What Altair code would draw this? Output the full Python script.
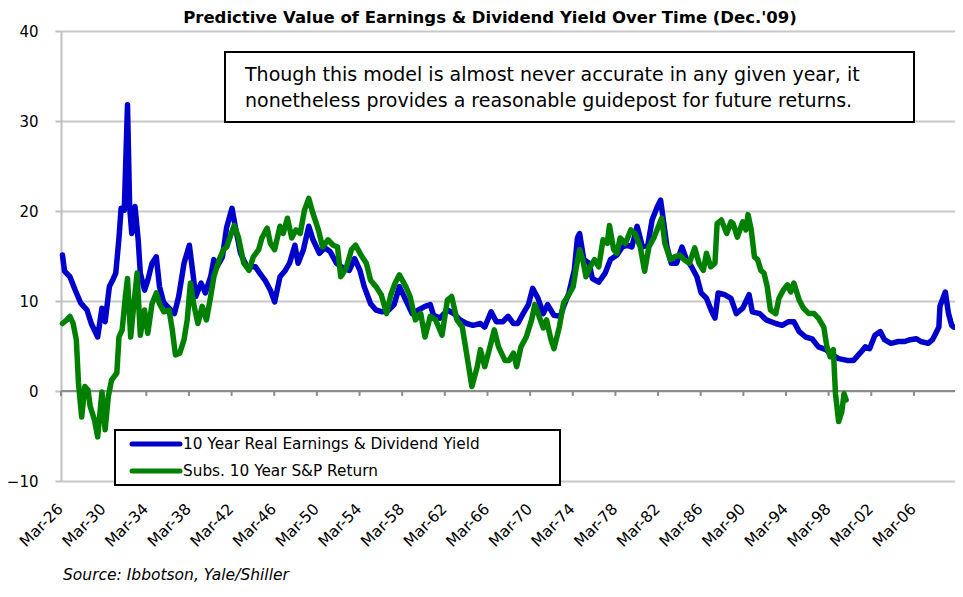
import altair as alt
import pandas as pd

FONT = "DejaVu Sans"
BLUE = "#0000CC"
GREEN = "#008000"

title_text = "Predictive Value of Earnings & Dividend Yield Over Time (Dec.'09)"
note_lines = [
    "Though this model is almost never accurate in any given year, it",
    "nonetheless provides a reasonable guidepost for future returns.",
]
series_names = ["10 Year Real Earnings & Dividend Yield", "Subs. 10 Year S&P Return"]
source_text = "Source: Ibbotson, Yale/Shiller"
tick_years = list(range(1926, 2007, 4))

# 10 Year Real Earnings & Dividend Yield (decimal year, %)
blue_years = [
    1926.3, 1926.5, 1927.0, 1927.5, 1928.0, 1928.6, 1929.0, 1929.6, 1930.0, 1930.3,
    1930.7, 1931.0, 1931.3, 1931.6, 1931.8, 1932.1, 1932.4, 1932.6, 1932.8, 1933.1,
    1933.4, 1933.6, 1934.0, 1934.3, 1934.7, 1935.1, 1935.4, 1935.8, 1936.3, 1936.8,
    1937.2, 1937.7, 1938.2, 1938.5, 1938.8, 1939.3, 1939.7, 1940.2, 1940.5, 1940.8,
    1941.3, 1941.7, 1942.2, 1942.5, 1943.0, 1943.6, 1944.4, 1944.8, 1945.3, 1945.8,
    1946.2, 1946.7, 1947.2, 1947.6, 1948.1, 1948.4, 1948.9, 1949.4, 1949.8, 1950.4,
    1950.9, 1951.4, 1952.0, 1952.6, 1953.2, 1953.7, 1954.2, 1954.6, 1955.2, 1955.7,
    1956.3, 1956.9, 1957.4, 1957.9, 1958.5, 1959.1, 1959.7, 1960.3, 1960.8, 1961.1,
    1961.7, 1962.4, 1963.0, 1963.6, 1964.2, 1964.8, 1965.5, 1965.9, 1966.5, 1967.0,
    1967.6, 1968.1, 1968.6, 1969.0, 1969.5, 1970.0, 1970.4, 1970.9, 1971.4, 1971.8,
    1972.4, 1973.0, 1973.3, 1973.8, 1974.3, 1974.6, 1974.8, 1975.2, 1975.7, 1976.0,
    1976.6, 1977.2, 1977.7, 1978.3, 1978.8, 1979.3, 1979.7, 1980.2, 1980.7, 1981.2,
    1981.6, 1982.1, 1982.4, 1982.7, 1983.0, 1983.4, 1983.9, 1984.4, 1984.8, 1985.3,
    1985.8, 1986.2, 1986.7, 1987.2, 1987.5, 1987.8, 1988.4, 1989.0, 1989.5, 1990.1,
    1990.7, 1991.0, 1991.7, 1992.3, 1993.2, 1993.8, 1994.4, 1994.9, 1995.4, 1996.0,
    1996.6, 1997.2, 1997.9, 1998.5, 1999.1, 1999.9, 2000.5, 2001.1, 2001.6, 2002.0,
    2002.5, 2003.0, 2003.4, 2004.0, 2004.7, 2005.3, 2005.8, 2006.4, 2006.8, 2007.5,
    2007.9, 2008.2, 2008.5, 2008.6, 2009.1, 2009.4, 2009.7, 2009.9,
]
blue_values = [
    15.1, 13.3, 12.7, 11.2, 9.8, 9.0, 7.5, 6.0, 9.2, 7.7,
    11.6, 12.3, 13.1, 17.0, 20.3, 20.1, 31.8, 20.5, 17.5, 20.5,
    16.8, 13.1, 11.2, 12.3, 14.2, 14.9, 11.6, 9.8, 9.2, 8.6,
    10.5, 14.2, 16.2, 13.4, 10.5, 12.0, 10.9, 12.7, 14.6, 13.8,
    14.9, 18.2, 20.3, 18.3, 15.3, 13.8, 13.8, 13.1, 12.3, 11.2,
    9.9, 12.7, 13.4, 14.2, 16.2, 14.2, 15.7, 18.3, 16.8, 15.3,
    15.9, 15.5, 14.2, 13.7, 13.4, 14.7, 13.4, 11.6, 9.7, 9.0,
    8.8, 9.0, 9.6, 11.6, 10.1, 8.6, 9.0, 9.4, 9.6, 8.4,
    8.1, 9.0, 8.6, 7.9, 7.5, 7.3, 7.5, 7.1, 8.8, 7.7,
    7.7, 8.3, 7.5, 7.5, 8.6, 9.6, 11.4, 10.3, 8.6, 9.6,
    8.4, 8.3, 9.4, 10.9, 13.4, 17.0, 17.5, 14.6, 14.2, 12.5,
    12.1, 13.1, 14.6, 15.1, 16.0, 16.2, 16.0, 18.3, 16.0, 16.2,
    19.0, 20.5, 21.2, 18.6, 16.0, 14.2, 14.2, 16.0, 14.7, 13.8,
    12.7, 10.9, 10.3, 8.8, 8.1, 10.9, 10.7, 10.3, 8.6, 9.2,
    10.7, 8.8, 8.6, 7.9, 7.5, 7.3, 7.7, 7.7, 6.6, 6.0,
    5.8, 4.9, 4.6, 4.0, 3.6, 3.4, 3.4, 4.2, 4.9, 4.7,
    6.2, 6.6, 5.7, 5.3, 5.5, 5.5, 5.7, 5.8, 5.5, 5.3,
    5.7, 6.4, 7.1, 9.4, 11.0, 8.6, 7.3, 7.1,
]

# Subsequent 10 Year S&P Return (decimal year, %)
green_years = [
    1926.3, 1926.7, 1927.0, 1927.3, 1927.6, 1927.8, 1928.1, 1928.4, 1928.7, 1928.9,
    1929.3, 1929.6, 1930.0, 1930.3, 1930.6, 1930.9, 1931.4, 1931.6, 1931.9, 1932.2,
    1932.4, 1932.7, 1933.0, 1933.3, 1933.6, 1934.0, 1934.3, 1934.7, 1935.1, 1935.4,
    1935.8, 1936.3, 1936.6, 1936.9, 1937.3, 1937.7, 1938.0, 1938.3, 1938.6, 1939.0,
    1939.4, 1939.8, 1940.2, 1940.5, 1941.0, 1941.4, 1941.7, 1942.4, 1942.8, 1943.3,
    1943.8, 1944.2, 1944.7, 1945.0, 1945.5, 1945.8, 1946.2, 1946.7, 1947.0, 1947.4,
    1947.8, 1948.2, 1948.6, 1949.0, 1949.4, 1949.8, 1950.3, 1950.7, 1951.2, 1951.7,
    1952.1, 1952.4, 1952.9, 1953.4, 1953.8, 1954.3, 1954.8, 1955.2, 1955.7, 1956.2,
    1956.7, 1957.1, 1957.5, 1957.9, 1958.5, 1958.9, 1959.4, 1959.9, 1960.3, 1960.8,
    1961.3, 1961.9, 1962.4, 1962.8, 1963.3, 1963.8, 1964.2, 1964.7, 1965.2, 1965.5,
    1965.9, 1966.4, 1966.8, 1967.2, 1967.8, 1968.2, 1968.6, 1968.9, 1969.3, 1969.8,
    1970.3, 1970.6, 1971.0, 1971.4, 1971.7, 1972.1, 1972.4, 1972.9, 1973.3, 1973.7,
    1974.2, 1974.5, 1974.8, 1975.1, 1975.4, 1975.8, 1976.2, 1976.6, 1977.0, 1977.4,
    1977.6, 1978.0, 1978.3, 1978.6, 1979.1, 1979.6, 1980.0, 1980.5, 1980.9, 1981.3,
    1981.8, 1982.2, 1982.5, 1982.8, 1983.3, 1983.7, 1984.2, 1984.6, 1985.1, 1985.6,
    1986.0, 1986.4, 1986.7, 1987.1, 1987.5, 1987.7, 1988.1, 1988.6, 1989.0, 1989.2,
    1989.6, 1990.1, 1990.4, 1990.6, 1990.9, 1991.2, 1991.5, 1991.8, 1992.1, 1992.4,
    1992.7, 1993.2, 1993.5, 1993.9, 1994.3, 1994.6, 1994.9, 1995.4, 1995.8, 1996.3,
    1996.8, 1997.2, 1997.7, 1998.0, 1998.3, 1998.6, 1998.8, 1999.1, 1999.4, 1999.6,
    1999.8,
]
green_values = [
    7.5, 7.9, 8.3, 7.5, 5.7, 0.9, -2.9, 0.5, 0.1, -1.7,
    -3.2, -5.1, -0.1, -4.3, -0.6, 1.2, 2.0, 6.0, 6.8, 10.5,
    12.5, 6.0, 9.7, 13.1, 6.2, 9.0, 6.4, 9.7, 10.9, 9.7,
    8.8, 9.0, 6.8, 4.0, 4.2, 5.7, 7.9, 12.0, 9.7, 7.5,
    9.4, 7.9, 10.5, 12.7, 14.6, 15.7, 16.0, 18.4, 17.1, 14.2,
    13.4, 14.9, 15.7, 17.0, 18.1, 16.4, 15.7, 18.3, 17.5, 19.2,
    17.0, 17.9, 17.5, 20.1, 21.4, 19.7, 17.9, 16.0, 16.8, 16.2,
    16.0, 12.7, 13.6, 15.7, 16.2, 15.1, 14.2, 12.3, 11.6, 10.7,
    8.6, 10.7, 12.0, 12.9, 11.6, 10.5, 7.9, 8.6, 6.0, 8.3,
    7.9, 6.2, 10.1, 10.5, 7.9, 7.1, 4.2, 0.5, 2.7, 4.6,
    2.7, 4.9, 6.8, 4.9, 3.4, 3.4, 4.2, 2.7, 4.9, 6.0,
    7.9, 9.6, 8.3, 7.0, 7.9, 5.8, 4.7, 7.1, 9.8, 10.5,
    11.6, 13.8, 15.7, 14.6, 12.7, 13.8, 14.6, 13.8, 16.8, 16.4,
    18.4, 15.7, 15.3, 17.0, 16.4, 17.9, 17.5, 16.0, 13.3, 16.0,
    17.1, 18.3, 19.2, 16.4, 14.6, 14.9, 15.1, 14.6, 14.2, 15.9,
    14.2, 13.4, 15.3, 13.8, 14.2, 18.6, 19.0, 17.5, 18.8, 18.6,
    17.1, 18.8, 17.9, 19.6, 17.9, 14.9, 14.6, 13.4, 13.1, 11.6,
    9.0, 8.6, 10.3, 11.2, 11.8, 11.0, 12.0, 10.1, 9.2, 8.6,
    8.6, 8.1, 7.1, 4.9, 3.8, 4.6, -0.3, -3.4, -2.3, -0.3,
    -1.0,
]


def to_dates(years):
    out = []
    for y in years:
        yi = int(y)
        out.append(pd.Timestamp(year=yi, month=1, day=1) + pd.to_timedelta((y - yi) * 365.25, unit="D"))
    return out


df = pd.concat([
    pd.DataFrame({"date": to_dates(blue_years), "value": blue_values, "series": series_names[0]}),
    pd.DataFrame({"date": to_dates(green_years), "value": green_values, "series": series_names[1]}),
])
ticks_df = pd.DataFrame({"date": [pd.Timestamp(year=y, month=3, day=1) for y in tick_years]})
one = pd.DataFrame({"k": [0]})

x_scale = alt.Scale(domain=[alt.DateTime(year=1926, month=3, date=1), alt.DateTime(year=2010, month=1, date=5)])
x_enc = alt.X(
    "date:T",
    scale=x_scale,
    axis=alt.Axis(
        values=[alt.DateTime(year=y, month=3, date=1) for y in tick_years],
        format="%b-%y", labelAngle=-45, domain=False, ticks=False, grid=False,
        labelFontSize=15.5, labelPadding=20, labelOffset=-6, labelFlush=False, labelOverlap=False,
        labelBound=False, title=None, labelFont=FONT, labelColor="black",
    ),
)
y_enc = alt.Y(
    "value:Q",
    scale=alt.Scale(domain=[-10, 40], nice=False, zero=False),
    axis=alt.Axis(
        values=[-10, 0, 10, 20, 30, 40], grid=True, gridColor="#c8c8c8", gridWidth=2,
        domainColor="#c0c0c0", domainWidth=2, tickColor="#c0c0c0", tickSize=6, tickWidth=2,
        labelFontSize=15, labelPadding=17, title=None, labelFont=FONT, labelColor="black",
    ),
)

lines = alt.Chart(df).mark_line(strokeWidth=5.5, strokeJoin="round", strokeCap="round").encode(
    x=x_enc,
    y=y_enc,
    color=alt.Color("series:N", scale=alt.Scale(domain=series_names, range=[BLUE, GREEN]), legend=None),
    order=alt.Order("date:T"),
)

zero_rule = alt.Chart(one).mark_rule(color="#8c8c8c", strokeWidth=2).encode(y=alt.datum(0))
tick_marks = alt.Chart(ticks_df).mark_rule(color="#8c8c8c", strokeWidth=2).encode(
    x=alt.X("date:T", scale=x_scale), y=alt.datum(0), y2=alt.datum(-0.55)
)

note_box = alt.Chart(one).mark_rect(fill="white", stroke="black", strokeWidth=2).encode(
    x=alt.value(164), x2=alt.value(853), y=alt.value(21), y2=alt.value(91)
)
note1 = alt.Chart(one).mark_text(text=note_lines[0], align="left", baseline="middle", font=FONT, fontSize=19, color="black").encode(
    x=alt.value(184), y=alt.value(44)
)
note2 = alt.Chart(one).mark_text(text=note_lines[1], align="left", baseline="middle", font=FONT, fontSize=19, color="black").encode(
    x=alt.value(184), y=alt.value(70)
)

leg_box = alt.Chart(one).mark_rect(fill="white", stroke="black", strokeWidth=2).encode(
    x=alt.value(54), x2=alt.value(499), y=alt.value(399), y2=alt.value(454)
)
leg_b = alt.Chart(one).mark_rule(color=BLUE, strokeWidth=5, strokeCap="round").encode(
    x=alt.value(71), x2=alt.value(119), y=alt.value(413)
)
leg_g = alt.Chart(one).mark_rule(color=GREEN, strokeWidth=5, strokeCap="round").encode(
    x=alt.value(71), x2=alt.value(119), y=alt.value(440)
)
leg_bt = alt.Chart(one).mark_text(text=series_names[0], align="left", baseline="middle", font=FONT, fontSize=15.3, color="black").encode(
    x=alt.value(122), y=alt.value(413)
)
leg_gt = alt.Chart(one).mark_text(text=series_names[1], align="left", baseline="middle", font=FONT, fontSize=15.3, color="black").encode(
    x=alt.value(122), y=alt.value(440)
)
source = alt.Chart(one).mark_text(text=source_text, align="left", baseline="alphabetic", font=FONT, fontSize=15.5, fontStyle="italic", color="black").encode(
    x=alt.value(2), y=alt.value(549)
)

chart = alt.layer(
    zero_rule, tick_marks, lines, note_box, note1, note2, leg_box, leg_b, leg_g, leg_bt, leg_gt, source
).properties(
    width=894, height=450,
    title=alt.TitleParams(title_text, font=FONT, fontSize=16.5, fontWeight="bold", anchor="middle", dx=-18, offset=-2, color="black"),
    autosize=alt.AutoSizeParams(type="none"),
    padding={"left": 53, "top": 23, "right": 0, "bottom": 104},
).configure_view(stroke=None)

chart.save("out.html", embed_options={"renderer": "svg", "actions": False})
